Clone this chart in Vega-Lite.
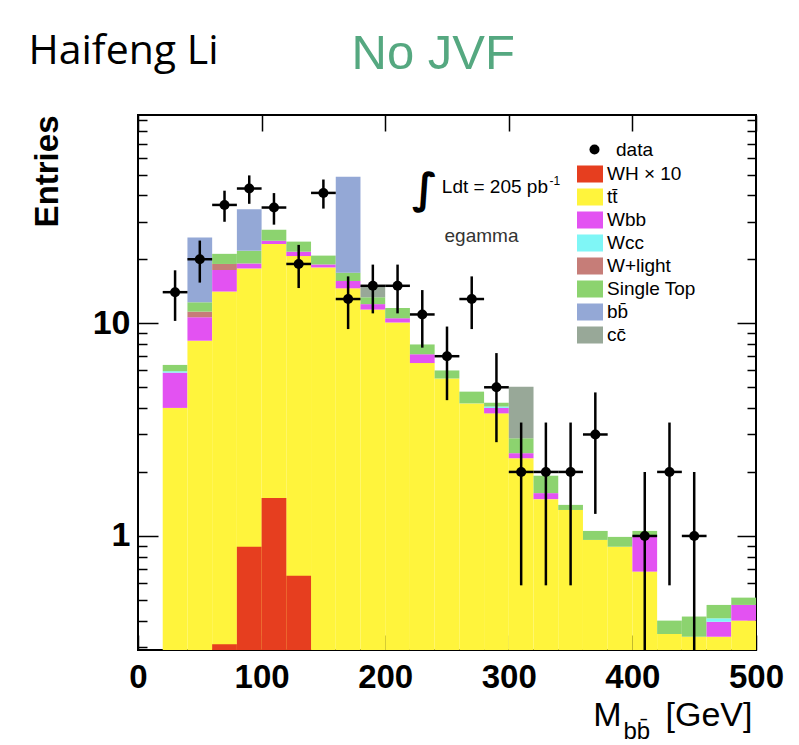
{
  "$schema": "https://vega.github.io/schema/vega-lite/v6.json",
  "width": 618,
  "height": 535,
  "autosize": {"type": "none"},
  "padding": {"left": 138, "top": 115, "right": 43, "bottom": 95},
  "background": "white",
  "config": {
    "view": {"stroke": "#000", "strokeWidth": 2},
    "axis": {"domain": false, "grid": false, "tickColor": "#000", "tickWidth": 1.5, "labelColor": "#000", "labelFont": "Liberation Sans", "titleColor": "#000", "titleFont": "Liberation Sans"},
    "legend": {"labelFont": "Liberation Sans", "labelFontSize": 19, "labelColor": "#000"}
  },
  "datasets": {
    "stack": [
      {"process": "tt̄", "x0": 20, "x1": 40, "lo": 0.01, "hi": 4.0},
      {"process": "Wbb", "x0": 20, "x1": 40, "lo": 4.0, "hi": 5.86},
      {"process": "Wcc", "x0": 20, "x1": 40, "lo": 5.86, "hi": 5.95},
      {"process": "Single Top", "x0": 20, "x1": 40, "lo": 5.95, "hi": 6.37},
      {"process": "tt̄", "x0": 40, "x1": 60, "lo": 0.01, "hi": 8.28},
      {"process": "Wbb", "x0": 40, "x1": 60, "lo": 8.28, "hi": 10.67},
      {"process": "W+light", "x0": 40, "x1": 60, "lo": 10.67, "hi": 11.34},
      {"process": "Single Top", "x0": 40, "x1": 60, "lo": 11.34, "hi": 12.55},
      {"process": "bb̄", "x0": 40, "x1": 60, "lo": 12.55, "hi": 25.3},
      {"process": "tt̄", "x0": 60, "x1": 80, "lo": 0.01, "hi": 14.1},
      {"process": "Wbb", "x0": 60, "x1": 80, "lo": 14.1, "hi": 17.8},
      {"process": "W+light", "x0": 60, "x1": 80, "lo": 17.8, "hi": 19.0},
      {"process": "Single Top", "x0": 60, "x1": 80, "lo": 19.0, "hi": 21.2},
      {"process": "tt̄", "x0": 80, "x1": 100, "lo": 0.01, "hi": 18.1},
      {"process": "Wbb", "x0": 80, "x1": 100, "lo": 18.1, "hi": 19.1},
      {"process": "Single Top", "x0": 80, "x1": 100, "lo": 19.1, "hi": 21.9},
      {"process": "bb̄", "x0": 80, "x1": 100, "lo": 21.9, "hi": 34.4},
      {"process": "tt̄", "x0": 100, "x1": 120, "lo": 0.01, "hi": 23.6},
      {"process": "Wbb", "x0": 100, "x1": 120, "lo": 23.6, "hi": 24.4},
      {"process": "Single Top", "x0": 100, "x1": 120, "lo": 24.4, "hi": 27.5},
      {"process": "tt̄", "x0": 120, "x1": 140, "lo": 0.01, "hi": 20.7},
      {"process": "Wbb", "x0": 120, "x1": 140, "lo": 20.7, "hi": 21.7},
      {"process": "Single Top", "x0": 120, "x1": 140, "lo": 21.7, "hi": 24.2},
      {"process": "tt̄", "x0": 140, "x1": 160, "lo": 0.01, "hi": 18.3},
      {"process": "Wbb", "x0": 140, "x1": 160, "lo": 18.3, "hi": 18.9},
      {"process": "Single Top", "x0": 140, "x1": 160, "lo": 18.9, "hi": 20.8},
      {"process": "tt̄", "x0": 160, "x1": 180, "lo": 0.01, "hi": 14.6},
      {"process": "Wbb", "x0": 160, "x1": 180, "lo": 14.6, "hi": 15.8},
      {"process": "Single Top", "x0": 160, "x1": 180, "lo": 15.8, "hi": 17.3},
      {"process": "bb̄", "x0": 160, "x1": 180, "lo": 17.3, "hi": 48.9},
      {"process": "tt̄", "x0": 180, "x1": 200, "lo": 0.01, "hi": 11.6},
      {"process": "Wbb", "x0": 180, "x1": 200, "lo": 11.6, "hi": 12.3},
      {"process": "Single Top", "x0": 180, "x1": 200, "lo": 12.3, "hi": 13.25},
      {"process": "cc̄", "x0": 180, "x1": 200, "lo": 13.25, "hi": 15.0},
      {"process": "tt̄", "x0": 200, "x1": 220, "lo": 0.01, "hi": 10.07},
      {"process": "Wbb", "x0": 200, "x1": 220, "lo": 10.07, "hi": 10.56},
      {"process": "Single Top", "x0": 200, "x1": 220, "lo": 10.56, "hi": 11.8},
      {"process": "tt̄", "x0": 220, "x1": 240, "lo": 0.01, "hi": 6.5},
      {"process": "Wbb", "x0": 220, "x1": 240, "lo": 6.5, "hi": 7.15},
      {"process": "Single Top", "x0": 220, "x1": 240, "lo": 7.15, "hi": 7.95},
      {"process": "tt̄", "x0": 240, "x1": 260, "lo": 0.01, "hi": 5.5},
      {"process": "Single Top", "x0": 240, "x1": 260, "lo": 5.5, "hi": 6.0},
      {"process": "tt̄", "x0": 260, "x1": 280, "lo": 0.01, "hi": 4.2},
      {"process": "Single Top", "x0": 260, "x1": 280, "lo": 4.2, "hi": 4.77},
      {"process": "tt̄", "x0": 280, "x1": 300, "lo": 0.01, "hi": 3.77},
      {"process": "Wbb", "x0": 280, "x1": 300, "lo": 3.77, "hi": 4.0},
      {"process": "Wcc", "x0": 280, "x1": 300, "lo": 4.0, "hi": 4.06},
      {"process": "Single Top", "x0": 280, "x1": 300, "lo": 4.06, "hi": 4.23},
      {"process": "tt̄", "x0": 300, "x1": 320, "lo": 0.01, "hi": 2.32},
      {"process": "Wbb", "x0": 300, "x1": 320, "lo": 2.32, "hi": 2.45},
      {"process": "Single Top", "x0": 300, "x1": 320, "lo": 2.45, "hi": 2.88},
      {"process": "cc̄", "x0": 300, "x1": 320, "lo": 2.88, "hi": 5.03},
      {"process": "tt̄", "x0": 320, "x1": 340, "lo": 0.01, "hi": 1.49},
      {"process": "Wbb", "x0": 320, "x1": 340, "lo": 1.49, "hi": 1.59},
      {"process": "Single Top", "x0": 320, "x1": 340, "lo": 1.59, "hi": 1.92},
      {"process": "tt̄", "x0": 340, "x1": 360, "lo": 0.01, "hi": 1.325},
      {"process": "Single Top", "x0": 340, "x1": 360, "lo": 1.325, "hi": 1.4},
      {"process": "tt̄", "x0": 360, "x1": 380, "lo": 0.01, "hi": 0.958},
      {"process": "Single Top", "x0": 360, "x1": 380, "lo": 0.958, "hi": 1.056},
      {"process": "tt̄", "x0": 380, "x1": 400, "lo": 0.01, "hi": 0.89},
      {"process": "Single Top", "x0": 380, "x1": 400, "lo": 0.89, "hi": 0.99},
      {"process": "tt̄", "x0": 400, "x1": 420, "lo": 0.01, "hi": 0.68},
      {"process": "Wbb", "x0": 400, "x1": 420, "lo": 0.68, "hi": 0.99},
      {"process": "Single Top", "x0": 400, "x1": 420, "lo": 0.99, "hi": 1.056},
      {"process": "tt̄", "x0": 420, "x1": 440, "lo": 0.01, "hi": 0.346},
      {"process": "Single Top", "x0": 420, "x1": 440, "lo": 0.346, "hi": 0.4},
      {"process": "tt̄", "x0": 440, "x1": 460, "lo": 0.01, "hi": 0.336},
      {"process": "Single Top", "x0": 440, "x1": 460, "lo": 0.336, "hi": 0.418},
      {"process": "tt̄", "x0": 460, "x1": 480, "lo": 0.01, "hi": 0.336},
      {"process": "Wbb", "x0": 460, "x1": 480, "lo": 0.336, "hi": 0.395},
      {"process": "Wcc", "x0": 460, "x1": 480, "lo": 0.395, "hi": 0.41},
      {"process": "Single Top", "x0": 460, "x1": 480, "lo": 0.41, "hi": 0.474},
      {"process": "tt̄", "x0": 480, "x1": 500, "lo": 0.01, "hi": 0.4},
      {"process": "Wbb", "x0": 480, "x1": 500, "lo": 0.4, "hi": 0.474},
      {"process": "Single Top", "x0": 480, "x1": 500, "lo": 0.474, "hi": 0.513},
      {"process": "WH × 10", "x0": 60, "x1": 80, "lo": 0.01, "hi": 0.31},
      {"process": "WH × 10", "x0": 80, "x1": 100, "lo": 0.01, "hi": 0.89},
      {"process": "WH × 10", "x0": 100, "x1": 120, "lo": 0.01, "hi": 1.51},
      {"process": "WH × 10", "x0": 120, "x1": 140, "lo": 0.01, "hi": 0.65}
    ],
    "obs": [
      {"kind": "data", "c": 30, "b0": 20, "b1": 40, "n": 14, "elo": 10.26, "ehi": 17.74},
      {"kind": "data", "c": 50, "b0": 40, "b1": 60, "n": 20, "elo": 15.53, "ehi": 24.47},
      {"kind": "data", "c": 70, "b0": 60, "b1": 80, "n": 36, "elo": 30, "ehi": 42},
      {"kind": "data", "c": 90, "b0": 80, "b1": 100, "n": 43, "elo": 36.44, "ehi": 49.56},
      {"kind": "data", "c": 110, "b0": 100, "b1": 120, "n": 35, "elo": 29.08, "ehi": 40.92},
      {"kind": "data", "c": 130, "b0": 120, "b1": 140, "n": 19, "elo": 14.64, "ehi": 23.36},
      {"kind": "data", "c": 150, "b0": 140, "b1": 160, "n": 41, "elo": 34.6, "ehi": 47.4},
      {"kind": "data", "c": 170, "b0": 160, "b1": 180, "n": 13, "elo": 9.39, "ehi": 16.61},
      {"kind": "data", "c": 190, "b0": 180, "b1": 200, "n": 15, "elo": 11.13, "ehi": 18.87},
      {"kind": "data", "c": 210, "b0": 200, "b1": 220, "n": 15, "elo": 11.13, "ehi": 18.87},
      {"kind": "data", "c": 230, "b0": 220, "b1": 240, "n": 11, "elo": 7.68, "ehi": 14.32},
      {"kind": "data", "c": 250, "b0": 240, "b1": 260, "n": 7, "elo": 4.35, "ehi": 9.65},
      {"kind": "data", "c": 270, "b0": 260, "b1": 280, "n": 13, "elo": 9.39, "ehi": 16.61},
      {"kind": "data", "c": 290, "b0": 280, "b1": 300, "n": 5, "elo": 2.76, "ehi": 7.24},
      {"kind": "data", "c": 310, "b0": 300, "b1": 320, "n": 2, "elo": 0.586, "ehi": 3.414},
      {"kind": "data", "c": 330, "b0": 320, "b1": 340, "n": 2, "elo": 0.586, "ehi": 3.414},
      {"kind": "data", "c": 350, "b0": 340, "b1": 360, "n": 2, "elo": 0.586, "ehi": 3.414},
      {"kind": "data", "c": 370, "b0": 360, "b1": 380, "n": 3, "elo": 1.27, "ehi": 4.73},
      {"kind": "data", "c": 410, "b0": 400, "b1": 420, "n": 1, "elo": 0.01, "ehi": 2},
      {"kind": "data", "c": 430, "b0": 420, "b1": 440, "n": 2, "elo": 0.586, "ehi": 3.414},
      {"kind": "data", "c": 450, "b0": 440, "b1": 460, "n": 1, "elo": 0.01, "ehi": 2}
    ]
  },
  "resolve": {"axis": {"x": "independent", "y": "independent"}},
  "layer": [
    {
      "data": {"name": "stack"},
      "mark": {"type": "rect", "clip": true, "strokeWidth": 0},
      "encoding": {
        "x": {"field": "x0", "type": "quantitative", "scale": {"domain": [0, 500], "nice": false, "zero": false},
          "axis": {"orient": "bottom", "values": [0, 100, 200, 300, 400, 500], "tickSize": -15, "labelFontSize": 33, "labelFontWeight": "bold", "labelPadding": 26, "labelFlush": false, "labelOverlap": false,
            "title": "M", "titleX": 483, "titleY": 75, "titleAngle": 0, "titleAlign": "right", "titleBaseline": "alphabetic", "titleFontSize": 34, "titleFontWeight": "normal"}},
        "x2": {"field": "x1"},
        "y": {"field": "hi", "type": "quantitative", "scale": {"type": "log", "domain": [0.291, 95.3], "nice": false},
          "axis": {"orient": "left", "values": [0.3, 0.4, 0.5, 0.6, 0.7, 0.8, 0.9, 1, 2, 3, 4, 5, 6, 7, 8, 9, 10, 20, 30, 40, 50, 60, 70, 80, 90],
            "tickSize": {"condition": {"test": "datum.value === 1 || datum.value === 10", "value": -20}, "value": -9},
            "labelExpr": "datum.value === 1 ? '1' : (datum.value === 10 ? '10' : '')", "labelFontSize": 34, "labelFontWeight": "bold", "labelPadding": 28, "labelOverlap": false,
            "title": "Entries", "titleX": -81, "titleY": 0, "titleAngle": 270, "titleAlign": "right", "titleBaseline": "alphabetic", "titleFontSize": 33, "titleFontWeight": "bold"}},
        "y2": {"field": "lo"},
        "color": {"field": "process", "type": "nominal",
          "scale": {"domain": ["WH × 10", "tt̄", "Wbb", "Wcc", "W+light", "Single Top", "bb̄", "cc̄"],
                    "range": ["#e63e1f", "#fff43c", "#e352f2", "#7ff6f6", "#c67d78", "#8cd36f", "#94a8d6", "#98a898"]},
          "legend": {"title": null, "orient": "none", "legendX": 439, "legendY": 46, "symbolType": "M-1,-0.654H1V0.654H-1Z", "symbolSize": 676, "symbolStrokeWidth": 0, "symbolOpacity": 1, "labelOffset": 4, "rowPadding": 0, "labelFontSize": 19, "labelLimit": 0}}
      }
    },
    {
      "data": {"name": "obs"},
      "mark": {"type": "point", "opacity": 0},
      "encoding": {
        "x": {"field": "c", "type": "quantitative", "scale": {"domain": [0, 500], "nice": false, "zero": false},
          "axis": {"orient": "top", "values": [0, 100, 200, 300, 400, 500], "tickSize": -16, "labels": false,
            "title": "No JVF", "titleX": 213, "titleY": -47, "titleAngle": 0, "titleAlign": "left", "titleBaseline": "alphabetic", "titleFontSize": 49, "titleFontWeight": "normal", "titleColor": "#55a880"}},
        "y": {"field": "n", "type": "quantitative", "scale": {"type": "log", "domain": [0.291, 95.3], "nice": false},
          "axis": {"orient": "right", "values": [0.3, 0.4, 0.5, 0.6, 0.7, 0.8, 0.9, 1, 2, 3, 4, 5, 6, 7, 8, 9, 10, 20, 30, 40, 50, 60, 70, 80, 90],
            "tickSize": {"condition": {"test": "datum.value === 1 || datum.value === 10", "value": -19}, "value": -9}, "labels": false,
            "title": "Haifeng Li", "titleX": -728, "titleY": -52, "titleAngle": 0, "titleAlign": "left", "titleBaseline": "alphabetic", "titleFont": "Open Sans", "titleFontSize": 41, "titleFontWeight": "normal"}}
      }
    },
    {
      "data": {"name": "obs"},
      "mark": {"type": "rule", "clip": true, "strokeWidth": 2.5, "color": "#000"},
      "encoding": {
        "x": {"field": "c", "type": "quantitative", "scale": {"domain": [0, 500], "nice": false, "zero": false},
          "axis": {"orient": "bottom", "domain": false, "ticks": false, "labels": false,
            "title": "bb̄", "titleX": 485, "titleY": 88, "titleAngle": 0, "titleAlign": "left", "titleBaseline": "alphabetic", "titleFontSize": 24, "titleFontWeight": "normal"}},
        "y": {"field": "elo", "type": "quantitative", "scale": {"type": "log", "domain": [0.291, 95.3], "nice": false}, "axis": null},
        "y2": {"field": "ehi"}
      }
    },
    {
      "data": {"name": "obs"},
      "mark": {"type": "rule", "clip": true, "strokeWidth": 2.5, "color": "#000"},
      "encoding": {
        "x": {"field": "b0", "type": "quantitative", "scale": {"domain": [0, 500], "nice": false, "zero": false},
          "axis": {"orient": "bottom", "domain": false, "ticks": false, "labels": false,
            "title": "[GeV]", "titleX": 614, "titleY": 75, "titleAngle": 0, "titleAlign": "right", "titleBaseline": "alphabetic", "titleFontSize": 34, "titleFontWeight": "normal"}},
        "x2": {"field": "b1"},
        "y": {"field": "n", "type": "quantitative", "scale": {"type": "log", "domain": [0.291, 95.3], "nice": false}, "axis": null}
      }
    },
    {
      "data": {"name": "obs"},
      "mark": {"type": "point", "filled": true, "color": "#000", "size": 100, "opacity": 1},
      "encoding": {
        "x": {"field": "c", "type": "quantitative", "scale": {"domain": [0, 500], "nice": false, "zero": false}, "axis": null},
        "y": {"field": "n", "type": "quantitative", "scale": {"type": "log", "domain": [0.291, 95.3], "nice": false}, "axis": null},
        "shape": {"field": "kind", "type": "nominal", "scale": {"domain": ["data"], "range": ["circle"]},
          "legend": {"title": null, "orient": "none", "legendX": 447, "legendY": 25, "symbolSize": 100, "symbolFillColor": "#000", "symbolStrokeWidth": 0, "labelOffset": 12, "labelFontSize": 19}}
      }
    },
    {
      "data": {"values": [{}]},
      "mark": {"type": "text", "text": "∫", "font": "DejaVu Sans", "fontSize": 42, "fontWeight": "bold", "align": "center", "baseline": "middle", "color": "#000"},
      "encoding": {
        "x": {"datum": 232, "type": "quantitative", "scale": {"domain": [0, 500], "nice": false, "zero": false}, "axis": null},
        "y": {"datum": 42.4, "type": "quantitative", "scale": {"type": "log", "domain": [0.291, 95.3], "nice": false}, "axis": null}
      }
    },
    {
      "data": {"values": [{}]},
      "mark": {"type": "text", "text": "Ldt = 205 pb", "font": "Liberation Sans", "fontSize": 19, "align": "left", "baseline": "alphabetic", "color": "#000"},
      "encoding": {
        "x": {"datum": 245.8, "type": "quantitative", "scale": {"domain": [0, 500], "nice": false, "zero": false}, "axis": null},
        "y": {"datum": 41, "type": "quantitative", "scale": {"type": "log", "domain": [0.291, 95.3], "nice": false}, "axis": null}
      }
    },
    {
      "data": {"values": [{}]},
      "mark": {"type": "text", "text": "-1", "font": "Liberation Sans", "fontSize": 12, "align": "left", "baseline": "alphabetic", "color": "#000"},
      "encoding": {
        "x": {"datum": 333, "type": "quantitative", "scale": {"domain": [0, 500], "nice": false, "zero": false}, "axis": null},
        "y": {"datum": 44.7, "type": "quantitative", "scale": {"type": "log", "domain": [0.291, 95.3], "nice": false}, "axis": null}
      }
    },
    {
      "data": {"values": [{}]},
      "mark": {"type": "text", "text": "egamma", "font": "Liberation Sans", "fontSize": 19, "align": "left", "baseline": "alphabetic", "color": "#333"},
      "encoding": {
        "x": {"datum": 248, "type": "quantitative", "scale": {"domain": [0, 500], "nice": false, "zero": false}, "axis": null},
        "y": {"datum": 24.1, "type": "quantitative", "scale": {"type": "log", "domain": [0.291, 95.3], "nice": false}, "axis": null}
      }
    }
  ]
}
